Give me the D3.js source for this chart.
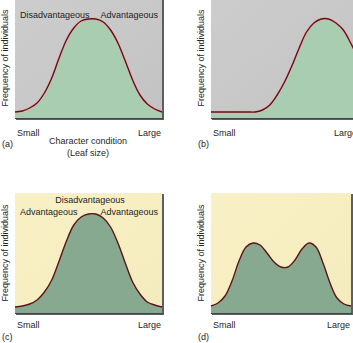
<!DOCTYPE html>
<html>
<head>
<meta charset="utf-8">
<script src="https://cdn.jsdelivr.net/npm/d3@7"></script>
<style>
  html, body { margin: 0; padding: 0; background: #fff; }
  svg { display: block; font-family: "Liberation Sans", Arial, sans-serif; }
</style>
</head>
<body>
<svg id="chart" width="353" height="343"></svg>
<script>
// Character condition (leaf size), small -> large, in 21 steps
const sizeSteps = d3.range(0, 21);

// Frequency of individuals for each panel
const freqA = [6, 7, 10, 15, 25, 40, 60, 78, 90, 97, 99, 99, 96, 88, 75, 57, 38, 23, 14, 9, 6];
const freqB = [6, 6, 6, 6, 6, 6, 6, 8, 13, 23, 36, 52, 70, 86, 95, 99, 99, 95, 88, 75, 60];
const freqC = [6, 7, 9, 13, 21, 33, 52, 72, 88, 96, 99, 99, 95, 86, 70, 50, 31, 19, 11, 8, 6];
const freqD = [7, 10, 17, 32, 52, 66, 70, 68, 60, 51, 46, 46, 53, 64, 70, 66, 50, 30, 15, 9, 7];

const axisEnds = ["Small", "Large"];
const yTitle = "Frequency of individuals";

const panels = [
  { id: "(a)", freq: freqA, x0: 15, x1: 162, top: -2, bottom: 118, bg: "grey", fill: "#a9cdb1", halo: true,
    endDy: 18, idDy: 29,
    notes: [["Disadvantageous", 20, 18, "start"], ["Advantageous", 158, 18, "end"]],
    xTitle: ["Character condition", "(Leaf size)"] },
  { id: "(b)", freq: freqB, x0: 211, x1: 358, top: -2, bottom: 118, bg: "grey", fill: "#a9cdb1", halo: true,
    endDy: 18, idDy: 29, notes: [], xTitle: null },
  { id: "(c)", freq: freqC, x0: 15, x1: 162, top: 193, bottom: 313, bg: "yellow", fill: "#86a98f", halo: false,
    endDy: 15, idDy: 27,
    notes: [["Disadvantageous", 90, 203, "middle"], ["Advantageous", 20, 215, "start"], ["Advantageous", 158, 215, "end"]],
    xTitle: null },
  { id: "(d)", freq: freqD, x0: 211, x1: 351, top: 193, bottom: 313, bg: "yellow", fill: "#86a98f", halo: false,
    endDy: 15, idDy: 27, notes: [], xTitle: null }
];

const svg = d3.select("#chart");
const defs = svg.append("defs");

const gGrey = defs.append("linearGradient").attr("id", "bgGrey")
  .attr("x1", 0).attr("y1", 0).attr("x2", 1).attr("y2", 1);
gGrey.append("stop").attr("offset", 0).attr("stop-color", "#cdcdcd");
gGrey.append("stop").attr("offset", 1).attr("stop-color", "#c3c3c3");

const gYel = defs.append("linearGradient").attr("id", "bgYellow")
  .attr("x1", 0).attr("y1", 0).attr("x2", 1).attr("y2", 1);
gYel.append("stop").attr("offset", 0).attr("stop-color", "#f9f1c6");
gYel.append("stop").attr("offset", 1).attr("stop-color", "#f4ebbd");

const textColor = "#262626";

panels.forEach(p => {
  const x = d3.scaleLinear().domain([0, 20]).range([p.x0, p.x1]);
  const y = d3.scaleLinear().domain([0, 120]).range([p.bottom, p.top]);
  const g = svg.append("g");

  // drop shadow and plot background
  g.append("rect")
    .attr("x", x(0) + 1).attr("y", y(120) + 1)
    .attr("width", x(20) - x(0) + 1).attr("height", y(0) - y(120) + 1)
    .attr("fill", "#5e5e5e");
  g.append("rect")
    .attr("x", x(0)).attr("y", y(120))
    .attr("width", x(20) - x(0)).attr("height", y(0) - y(120))
    .attr("fill", p.bg === "grey" ? "url(#bgGrey)" : "url(#bgYellow)");

  const pts = sizeSteps.map((s, i) => [s, p.freq[i]]);

  const area = d3.area()
    .x(d => x(d[0])).y0(y(0)).y1(d => y(d[1]))
    .curve(d3.curveCatmullRom.alpha(0.5));
  const line = d3.line()
    .x(d => x(d[0])).y(d => y(d[1]))
    .curve(d3.curveCatmullRom.alpha(0.5));

  g.append("path").datum(pts).attr("d", area).attr("fill", p.fill);
  if (p.halo) {
    g.append("path").datum(pts).attr("d", line)
      .attr("fill", "none").attr("stroke", "#e9aeb0").attr("stroke-width", 2.6);
  }
  g.append("path").datum(pts).attr("d", line)
    .attr("fill", "none").attr("stroke", "#5c1519").attr("stroke-width", 1.4);

  // bottom edge of the plot frame
  g.append("line")
    .attr("x1", x(0)).attr("x2", x(20) + 1)
    .attr("y1", y(0) + 0.5).attr("y2", y(0) + 0.5)
    .attr("stroke", "#444").attr("stroke-width", 1);

  // vertical axis title
  g.append("text")
    .attr("transform", `translate(${x(0) - 7},${(y(0) + y(120)) / 2}) rotate(-90)`)
    .attr("text-anchor", "middle")
    .attr("font-size", 9).attr("fill", textColor)
    .text(yTitle);

  // end labels of the horizontal axis
  g.append("text").attr("x", x(0) + 2).attr("y", y(0) + p.endDy)
    .attr("font-size", 9).attr("fill", textColor).text(axisEnds[0]);
  g.append("text").attr("x", x(20) - 1).attr("y", y(0) + p.endDy)
    .attr("text-anchor", "end")
    .attr("font-size", 9).attr("fill", textColor).text(axisEnds[1]);

  // panel letter
  g.append("text").attr("x", x(0) - 13).attr("y", y(0) + p.idDy)
    .attr("font-size", 9).attr("fill", textColor).text(p.id);

  if (p.xTitle) {
    g.append("text").attr("x", 88).attr("y", y(0) + 26)
      .attr("text-anchor", "middle")
      .attr("font-size", 9).attr("fill", textColor).text(p.xTitle[0]);
    g.append("text").attr("x", 88).attr("y", y(0) + 38)
      .attr("text-anchor", "middle")
      .attr("font-size", 9).attr("fill", textColor).text(p.xTitle[1]);
  }

  p.notes.forEach(n => {
    g.append("text").attr("x", n[1]).attr("y", n[2])
      .attr("text-anchor", n[3])
      .attr("font-size", 9).attr("fill", "#1e1e1e").text(n[0]);
  });
});
</script>
</body>
</html>
